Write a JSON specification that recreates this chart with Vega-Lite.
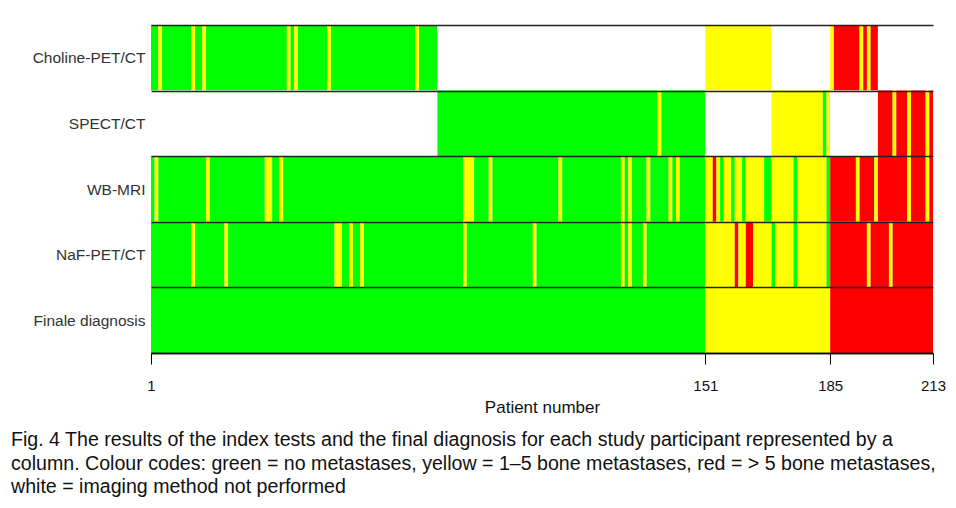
{
  "$schema": "https://vega.github.io/schema/vega-lite/v6.json",
  "width": 782,
  "height": 328,
  "autosize": {"type": "none"},
  "padding": {"left": 151, "top": 25, "right": 23, "bottom": 155},
  "background": "white",
  "config": {"view": {"stroke": null}},
  "title": {
    "text": [
      "Fig. 4 The results of the index tests and the final diagnosis for each study participant represented by a",
      "column. Colour codes: green = no metastases, yellow = 1–5 bone metastases, red = > 5 bone metastases,",
      "white = imaging method not performed"
    ],
    "orient": "bottom",
    "anchor": "start",
    "frame": "group",
    "dx": -140,
    "offset": 16,
    "font": "Liberation Sans",
    "fontSize": 19.6,
    "fontWeight": "normal",
    "color": "#111111",
    "lineHeight": 23.5
  },
  "data": {
    "values": [
      {"test": "Choline-PET/CT", "from": 0, "to": 2, "result": "none"},
      {"test": "Choline-PET/CT", "from": 2, "to": 3, "result": "1-5"},
      {"test": "Choline-PET/CT", "from": 3, "to": 11, "result": "none"},
      {"test": "Choline-PET/CT", "from": 11, "to": 12, "result": "1-5"},
      {"test": "Choline-PET/CT", "from": 12, "to": 14, "result": "none"},
      {"test": "Choline-PET/CT", "from": 14, "to": 15, "result": "1-5"},
      {"test": "Choline-PET/CT", "from": 15, "to": 37, "result": "none"},
      {"test": "Choline-PET/CT", "from": 37, "to": 38, "result": "1-5"},
      {"test": "Choline-PET/CT", "from": 38, "to": 39, "result": "none"},
      {"test": "Choline-PET/CT", "from": 39, "to": 40, "result": "1-5"},
      {"test": "Choline-PET/CT", "from": 40, "to": 48, "result": "none"},
      {"test": "Choline-PET/CT", "from": 48, "to": 49, "result": "1-5"},
      {"test": "Choline-PET/CT", "from": 49, "to": 72, "result": "none"},
      {"test": "Choline-PET/CT", "from": 72, "to": 73, "result": "1-5"},
      {"test": "Choline-PET/CT", "from": 73, "to": 78, "result": "none"},
      {"test": "Choline-PET/CT", "from": 78, "to": 151, "result": "not performed"},
      {"test": "Choline-PET/CT", "from": 151, "to": 169, "result": "1-5"},
      {"test": "Choline-PET/CT", "from": 169, "to": 185, "result": "not performed"},
      {"test": "Choline-PET/CT", "from": 185, "to": 186, "result": "1-5"},
      {"test": "Choline-PET/CT", "from": 186, "to": 193, "result": ">5"},
      {"test": "Choline-PET/CT", "from": 193, "to": 194, "result": "1-5"},
      {"test": "Choline-PET/CT", "from": 194, "to": 195, "result": ">5"},
      {"test": "Choline-PET/CT", "from": 195, "to": 196, "result": "1-5"},
      {"test": "Choline-PET/CT", "from": 196, "to": 198, "result": ">5"},
      {"test": "Choline-PET/CT", "from": 198, "to": 213, "result": "not performed"},

      {"test": "SPECT/CT", "from": 0, "to": 78, "result": "not performed"},
      {"test": "SPECT/CT", "from": 78, "to": 138, "result": "none"},
      {"test": "SPECT/CT", "from": 138, "to": 139, "result": "1-5"},
      {"test": "SPECT/CT", "from": 139, "to": 151, "result": "none"},
      {"test": "SPECT/CT", "from": 151, "to": 169, "result": "not performed"},
      {"test": "SPECT/CT", "from": 169, "to": 183, "result": "1-5"},
      {"test": "SPECT/CT", "from": 183, "to": 184, "result": "none"},
      {"test": "SPECT/CT", "from": 184, "to": 185, "result": "1-5"},
      {"test": "SPECT/CT", "from": 185, "to": 198, "result": "not performed"},
      {"test": "SPECT/CT", "from": 198, "to": 202, "result": ">5"},
      {"test": "SPECT/CT", "from": 202, "to": 203, "result": "1-5"},
      {"test": "SPECT/CT", "from": 203, "to": 206, "result": ">5"},
      {"test": "SPECT/CT", "from": 206, "to": 207, "result": "1-5"},
      {"test": "SPECT/CT", "from": 207, "to": 211, "result": ">5"},
      {"test": "SPECT/CT", "from": 211, "to": 212, "result": "1-5"},
      {"test": "SPECT/CT", "from": 212, "to": 213, "result": ">5"},

      {"test": "WB-MRI", "from": 0, "to": 1, "result": "none"},
      {"test": "WB-MRI", "from": 1, "to": 2, "result": "1-5"},
      {"test": "WB-MRI", "from": 2, "to": 15, "result": "none"},
      {"test": "WB-MRI", "from": 15, "to": 16, "result": "1-5"},
      {"test": "WB-MRI", "from": 16, "to": 31, "result": "none"},
      {"test": "WB-MRI", "from": 31, "to": 33, "result": "1-5"},
      {"test": "WB-MRI", "from": 33, "to": 35, "result": "none"},
      {"test": "WB-MRI", "from": 35, "to": 36, "result": "1-5"},
      {"test": "WB-MRI", "from": 36, "to": 85, "result": "none"},
      {"test": "WB-MRI", "from": 85, "to": 88, "result": "1-5"},
      {"test": "WB-MRI", "from": 88, "to": 92, "result": "none"},
      {"test": "WB-MRI", "from": 92, "to": 93, "result": "1-5"},
      {"test": "WB-MRI", "from": 93, "to": 111, "result": "none"},
      {"test": "WB-MRI", "from": 111, "to": 112, "result": "1-5"},
      {"test": "WB-MRI", "from": 112, "to": 128, "result": "none"},
      {"test": "WB-MRI", "from": 128, "to": 129, "result": "1-5"},
      {"test": "WB-MRI", "from": 129, "to": 130, "result": "none"},
      {"test": "WB-MRI", "from": 130, "to": 131, "result": "1-5"},
      {"test": "WB-MRI", "from": 131, "to": 135, "result": "none"},
      {"test": "WB-MRI", "from": 135, "to": 136, "result": "1-5"},
      {"test": "WB-MRI", "from": 136, "to": 141, "result": "none"},
      {"test": "WB-MRI", "from": 141, "to": 142, "result": "1-5"},
      {"test": "WB-MRI", "from": 142, "to": 143, "result": "none"},
      {"test": "WB-MRI", "from": 143, "to": 144, "result": "1-5"},
      {"test": "WB-MRI", "from": 144, "to": 151, "result": "none"},
      {"test": "WB-MRI", "from": 151, "to": 153, "result": "1-5"},
      {"test": "WB-MRI", "from": 153, "to": 154, "result": ">5"},
      {"test": "WB-MRI", "from": 154, "to": 155, "result": "1-5"},
      {"test": "WB-MRI", "from": 155, "to": 156, "result": "none"},
      {"test": "WB-MRI", "from": 156, "to": 158, "result": "1-5"},
      {"test": "WB-MRI", "from": 158, "to": 159, "result": "none"},
      {"test": "WB-MRI", "from": 159, "to": 161, "result": "1-5"},
      {"test": "WB-MRI", "from": 161, "to": 162, "result": "none"},
      {"test": "WB-MRI", "from": 162, "to": 167, "result": "1-5"},
      {"test": "WB-MRI", "from": 167, "to": 169, "result": "none"},
      {"test": "WB-MRI", "from": 169, "to": 175, "result": "1-5"},
      {"test": "WB-MRI", "from": 175, "to": 176, "result": "none"},
      {"test": "WB-MRI", "from": 176, "to": 184, "result": "1-5"},
      {"test": "WB-MRI", "from": 184, "to": 185, "result": "none"},
      {"test": "WB-MRI", "from": 185, "to": 192, "result": ">5"},
      {"test": "WB-MRI", "from": 192, "to": 193, "result": "1-5"},
      {"test": "WB-MRI", "from": 193, "to": 197, "result": ">5"},
      {"test": "WB-MRI", "from": 197, "to": 198, "result": "1-5"},
      {"test": "WB-MRI", "from": 198, "to": 206, "result": ">5"},
      {"test": "WB-MRI", "from": 206, "to": 207, "result": "1-5"},
      {"test": "WB-MRI", "from": 207, "to": 211, "result": ">5"},
      {"test": "WB-MRI", "from": 211, "to": 212, "result": "1-5"},
      {"test": "WB-MRI", "from": 212, "to": 213, "result": ">5"},

      {"test": "NaF-PET/CT", "from": 0, "to": 11, "result": "none"},
      {"test": "NaF-PET/CT", "from": 11, "to": 12, "result": "1-5"},
      {"test": "NaF-PET/CT", "from": 12, "to": 20, "result": "none"},
      {"test": "NaF-PET/CT", "from": 20, "to": 21, "result": "1-5"},
      {"test": "NaF-PET/CT", "from": 21, "to": 50, "result": "none"},
      {"test": "NaF-PET/CT", "from": 50, "to": 52, "result": "1-5"},
      {"test": "NaF-PET/CT", "from": 52, "to": 54, "result": "none"},
      {"test": "NaF-PET/CT", "from": 54, "to": 55, "result": "1-5"},
      {"test": "NaF-PET/CT", "from": 55, "to": 57, "result": "none"},
      {"test": "NaF-PET/CT", "from": 57, "to": 58, "result": "1-5"},
      {"test": "NaF-PET/CT", "from": 58, "to": 85, "result": "none"},
      {"test": "NaF-PET/CT", "from": 85, "to": 86, "result": "1-5"},
      {"test": "NaF-PET/CT", "from": 86, "to": 104, "result": "none"},
      {"test": "NaF-PET/CT", "from": 104, "to": 105, "result": "1-5"},
      {"test": "NaF-PET/CT", "from": 105, "to": 128, "result": "none"},
      {"test": "NaF-PET/CT", "from": 128, "to": 129, "result": "1-5"},
      {"test": "NaF-PET/CT", "from": 129, "to": 130, "result": "none"},
      {"test": "NaF-PET/CT", "from": 130, "to": 131, "result": "1-5"},
      {"test": "NaF-PET/CT", "from": 131, "to": 134, "result": "none"},
      {"test": "NaF-PET/CT", "from": 134, "to": 135, "result": "1-5"},
      {"test": "NaF-PET/CT", "from": 135, "to": 151, "result": "none"},
      {"test": "NaF-PET/CT", "from": 151, "to": 159, "result": "1-5"},
      {"test": "NaF-PET/CT", "from": 159, "to": 160, "result": ">5"},
      {"test": "NaF-PET/CT", "from": 160, "to": 162, "result": "1-5"},
      {"test": "NaF-PET/CT", "from": 162, "to": 164, "result": ">5"},
      {"test": "NaF-PET/CT", "from": 164, "to": 169, "result": "1-5"},
      {"test": "NaF-PET/CT", "from": 169, "to": 170, "result": "none"},
      {"test": "NaF-PET/CT", "from": 170, "to": 175, "result": "1-5"},
      {"test": "NaF-PET/CT", "from": 175, "to": 176, "result": "none"},
      {"test": "NaF-PET/CT", "from": 176, "to": 184, "result": "1-5"},
      {"test": "NaF-PET/CT", "from": 184, "to": 185, "result": "none"},
      {"test": "NaF-PET/CT", "from": 185, "to": 195, "result": ">5"},
      {"test": "NaF-PET/CT", "from": 195, "to": 196, "result": "1-5"},
      {"test": "NaF-PET/CT", "from": 196, "to": 201, "result": ">5"},
      {"test": "NaF-PET/CT", "from": 201, "to": 202, "result": "1-5"},
      {"test": "NaF-PET/CT", "from": 202, "to": 213, "result": ">5"},

      {"test": "Finale diagnosis", "from": 0, "to": 151, "result": "none"},
      {"test": "Finale diagnosis", "from": 151, "to": 185, "result": "1-5"},
      {"test": "Finale diagnosis", "from": 185, "to": 213, "result": ">5"}
    ]
  },
  "mark": {"type": "rect", "strokeWidth": 0},
  "encoding": {
    "y": {
      "field": "test",
      "type": "nominal",
      "sort": ["Choline-PET/CT", "SPECT/CT", "WB-MRI", "NaF-PET/CT", "Finale diagnosis"],
      "scale": {"paddingInner": 0, "paddingOuter": 0},
      "axis": {
        "title": null,
        "ticks": false,
        "domain": false,
        "labelPadding": 6,
        "labelFont": "Liberation Sans",
        "labelFontSize": 15.5,
        "labelColor": "#333333",
        "grid": true,
        "tickBand": "extent",
        "gridColor": "#222222",
        "gridWidth": 1.3,
        "gridOpacity": 1,
        "zindex": 1
      }
    },
    "x": {
      "field": "from",
      "type": "quantitative",
      "scale": {"domain": [0, 213], "nice": false, "zero": false},
      "axis": {
        "values": [0, 151, 185, 213],
        "labelExpr": "datum.value == 0 ? '1' : datum.label",
        "title": "Patient number",
        "grid": false,
        "domainColor": "#000000",
        "domainWidth": 1.3,
        "tickColor": "#000000",
        "tickSize": 11,
        "tickWidth": 1,
        "labelFont": "Liberation Sans",
        "labelFontSize": 15,
        "labelColor": "#111111",
        "labelPadding": 14,
        "labelFlush": false,
        "labelOverlap": false,
        "titleFont": "Liberation Sans",
        "titleFontSize": 17,
        "titleFontWeight": "normal",
        "titleColor": "#111111",
        "titlePadding": 6,
        "zindex": 1
      }
    },
    "x2": {"field": "to"},
    "color": {
      "field": "result",
      "type": "nominal",
      "scale": {
        "domain": ["none", "1-5", ">5", "not performed"],
        "range": ["#00FF00", "#FFFF00", "#FF0000", "#FFFFFF"]
      },
      "legend": null
    }
  }
}
